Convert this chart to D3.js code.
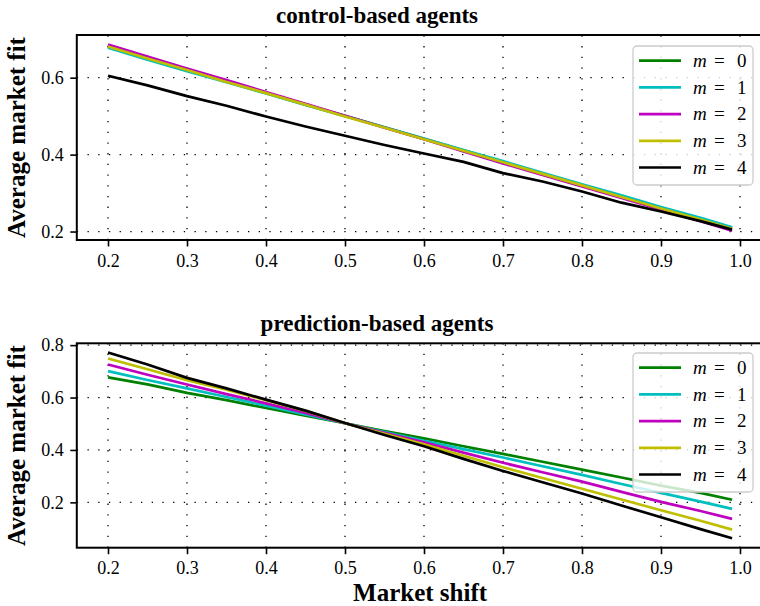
<!DOCTYPE html>
<html>
<head>
<meta charset="utf-8">
<script src="https://cdn.jsdelivr.net/npm/d3@7"></script>
<style>
  html, body { margin: 0; padding: 0; background: #fff; }
  svg { display: block; font-family: "Liberation Serif", "DejaVu Serif", serif; }
  .tick text { font-size: 18px; fill: #000; font-family: "Liberation Serif", serif; }
  .tick line { stroke: #000; stroke-width: 1.6; }
  .grid line { stroke: #000; stroke-width: 1.3; stroke-dasharray: 1.3,9.4; }
</style>
</head>
<body>
<div class="chart"></div>
<script>
// market shift values (x) shared by both panels
const marketShift = [0.20,0.25,0.30,0.35,0.40,0.45,0.50,0.55,0.60,0.65,0.70,0.75,0.80,0.85,0.90,0.95,0.99];

// control-based agents, one array per memory m
const controlM0 = [0.680,0.649,0.619,0.590,0.560,0.530,0.501,0.471,0.441,0.411,0.381,0.351,0.321,0.291,0.262,0.232,0.209];
const controlM1 = [0.678,0.647,0.617,0.588,0.559,0.529,0.500,0.471,0.442,0.412,0.383,0.353,0.323,0.294,0.264,0.236,0.211];
const controlM2 = [0.686,0.655,0.624,0.594,0.563,0.532,0.501,0.470,0.440,0.408,0.377,0.347,0.317,0.287,0.257,0.227,0.202];
const controlM3 = [0.681,0.650,0.620,0.589,0.560,0.530,0.499,0.470,0.440,0.410,0.380,0.350,0.320,0.290,0.260,0.231,0.207];
const controlM4 = [0.605,0.580,0.552,0.527,0.499,0.473,0.449,0.425,0.403,0.381,0.352,0.330,0.304,0.275,0.252,0.227,0.205];

// prediction-based agents
const predictM0 = [0.677,0.650,0.618,0.590,0.560,0.531,0.502,0.472,0.444,0.414,0.385,0.355,0.325,0.295,0.264,0.236,0.210];
const predictM1 = [0.701,0.667,0.635,0.602,0.569,0.536,0.502,0.468,0.435,0.403,0.371,0.338,0.305,0.270,0.236,0.203,0.175];
const predictM2 = [0.726,0.687,0.650,0.613,0.578,0.541,0.502,0.465,0.429,0.390,0.351,0.315,0.279,0.240,0.202,0.167,0.137];
const predictM3 = [0.749,0.708,0.666,0.630,0.590,0.549,0.502,0.462,0.422,0.378,0.334,0.293,0.252,0.211,0.170,0.130,0.096];
const predictM4 = [0.772,0.726,0.675,0.635,0.592,0.550,0.503,0.457,0.414,0.366,0.320,0.277,0.234,0.188,0.143,0.098,0.063];

const memoryLabels = ['0','1','2','3','4'];
const lineColors = ['#008000','#00bfbf','#bf00bf','#bfbf00','#000000'];
const xTicks = [0.2,0.3,0.4,0.5,0.6,0.7,0.8,0.9,1.0];

const W = 760, H = 606;

const svg = d3.select('.chart')
  .append('svg')
  .attr('width', W)
  .attr('height', H);

// x scale is the same for both panels (right spine falls just outside the picture)
const scaleX = d3.scaleLinear().domain([0.1605, 1.0295]).range([76.8, 763.3]);

const panels = [
  {title: 'control-based agents', series: [controlM0, controlM1, controlM2, controlM3, controlM4],
   yDomain: [0.178, 0.711], top: 35, bottom: 240, yTicks: [0.2,0.4,0.6],
   titleY: 22.5, legendTop: 46},
  {title: 'prediction-based agents', series: [predictM0, predictM1, predictM2, predictM3, predictM4],
   yDomain: [0.027, 0.807], top: 343.3, bottom: 547.7, yTicks: [0.2,0.4,0.6,0.8],
   titleY: 331, legendTop: 353}
];

panels.forEach(function(p){
  const scaleY = d3.scaleLinear().domain(p.yDomain).range([p.bottom, p.top]);
  const plot = svg.append('g').attr('class', 'panel');
  const left = scaleX.range()[0], right = scaleX.range()[1];

  //grid
  const grid = plot.append('g').attr('class', 'grid');
  grid.selectAll('.gx').data(xTicks).enter().append('line')
    .attr('x1', d => scaleX(d)).attr('x2', d => scaleX(d))
    .attr('y1', p.bottom).attr('y2', p.top);
  grid.selectAll('.gy').data(p.yTicks).enter().append('line')
    .attr('x1', left).attr('x2', right)
    .attr('y1', d => scaleY(d)).attr('y2', d => scaleY(d));

  //axes
  const xAxis = plot.append('g')
    .attr('transform', `translate(0, ${p.bottom})`)
    .call(d3.axisBottom(scaleX).tickValues(xTicks).tickFormat(d3.format('.1f')).tickSize(6.5).tickPadding(7.5))
    .attr('font-family', null).attr('font-size', null);
  xAxis.select('.domain').remove();

  const yAxis = plot.append('g')
    .attr('transform', `translate(${left}, 0)`)
    .call(d3.axisLeft(scaleY).tickValues(p.yTicks).tickFormat(d3.format('.1f')).tickSize(6.5).tickPadding(6.5))
    .attr('font-family', null).attr('font-size', null);
  yAxis.select('.domain').remove();

  //lines
  const line = d3.line()
    .x((d, i) => scaleX(marketShift[i]))
    .y(d => scaleY(d));

  plot.selectAll('.series').data(p.series).enter().append('path')
    .attr('class', 'series')
    .attr('d', line)
    .attr('fill', 'none')
    .attr('stroke', (d, i) => lineColors[i])
    .attr('stroke-width', 2.7)
    .attr('stroke-linejoin', 'round');

  //spines
  plot.append('rect')
    .attr('x', left).attr('y', p.top)
    .attr('width', right - left).attr('height', p.bottom - p.top)
    .attr('fill', 'none').attr('stroke', '#000').attr('stroke-width', 2);

  //title
  plot.append('text')
    .text(p.title)
    .attr('x', 377).attr('y', p.titleY)
    .attr('text-anchor', 'middle')
    .attr('font-weight', 'bold')
    .attr('font-size', 23);

  //y label
  plot.append('text')
    .text('Average market fit')
    .attr('transform', `translate(25, ${(p.top + p.bottom) / 2}) rotate(-90)`)
    .attr('text-anchor', 'middle')
    .attr('font-weight', 'bold')
    .attr('font-size', 25);

  //legend
  const legend = plot.append('g').attr('transform', `translate(633, ${p.legendTop})`);
  legend.append('rect')
    .attr('width', 120).attr('height', 139)
    .attr('rx', 4)
    .attr('fill', '#fff').attr('fill-opacity', 0.8)
    .attr('stroke', '#cccccc').attr('stroke-width', 1.3);

  memoryLabels.forEach(function(m, i){
    const y = 14.7 + i * 26.7;
    const row = legend.append('g').attr('transform', `translate(0, ${y})`);
    row.append('line')
      .attr('x1', 6).attr('x2', 48)
      .attr('stroke', lineColors[i]).attr('stroke-width', 2.7);
    row.append('text').text('m')
      .attr('x', 60).attr('dy', '0.33em')
      .attr('font-style', 'italic').attr('font-size', 19);
    row.append('text').text('=')
      .attr('x', 81).attr('dy', '0.33em').attr('font-size', 19);
    row.append('text').text(m)
      .attr('x', 104).attr('dy', '0.33em').attr('font-size', 19);
  });
});

//x label
svg.append('text')
  .text('Market shift')
  .attr('x', scaleX(0.595)).attr('y', 601)
  .attr('text-anchor', 'middle')
  .attr('font-weight', 'bold')
  .attr('font-size', 25);
</script>
</body>
</html>
